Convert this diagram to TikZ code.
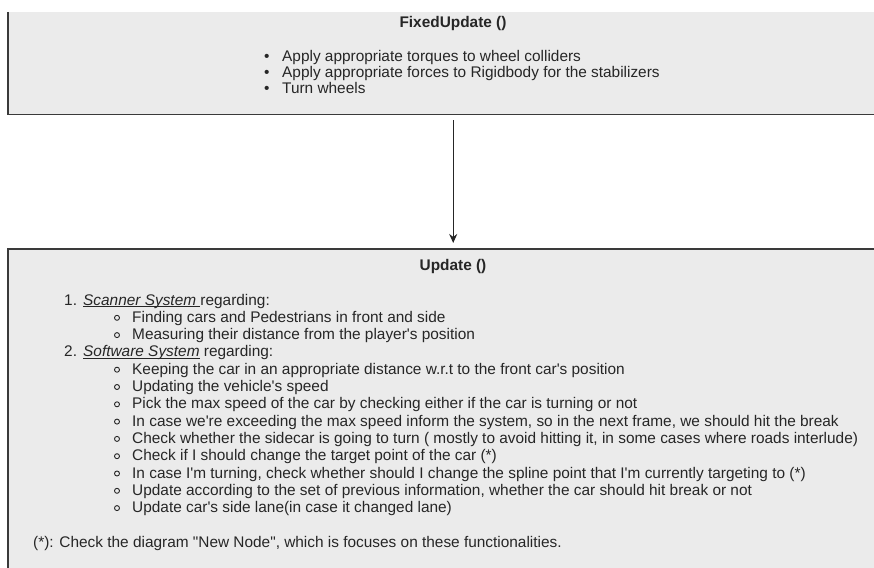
\documentclass[tikz,border=0pt]{standalone}
\usepackage{fontspec}
\setmainfont{Liberation Sans}[Ligatures=TeXOff]
\usetikzlibrary{arrows.meta}
\definecolor{boxfill}{HTML}{EBEBEB}
\definecolor{boxline}{HTML}{3A3A3A}
\definecolor{ink}{HTML}{262626}

% underline drawn just below the baseline, across descenders
\newsavebox\ulbox
\newcommand\ulspan[1]{\sbox\ulbox{#1}\rlap{\rule[-1.8pt]{\wd\ulbox}{0.8pt}}\usebox\ulbox}

\begin{document}
\begin{tikzpicture}[x=1pt,y=-1pt,
  panel/.style={fill=boxfill, draw=none, minimum width=890pt, inner sep=0pt, anchor=north west},
  edge/.style={draw=boxline, line width=1.6pt},
  txt/.style={anchor=base west, inner sep=0pt, text=ink, font=\fontsize{15.4}{18}\selectfont},
  ttl/.style={anchor=base, inner sep=0pt, text=ink, font=\fontsize{15.4}{18}\selectfont\bfseries},
  subdot/.style={circle, draw=ink, line width=0.9pt, inner sep=0pt, minimum size=5pt},
  flow/.style={draw=ink, line width=1.2pt, -{Stealth[length=9pt,width=8pt]}, shorten <=6pt, shorten >=6pt}
]
\useasboundingbox (0,0) rectangle (874,567);
\begin{scope}
\clip (0,0) rectangle (874,567);

% the two panels, running past the right and bottom edges
\node[panel, minimum height=102pt] (fixed) at (8,12) {};
\node[panel, minimum height=340pt] (update) at (8,249) {};
\draw[edge] (fixed.north west) -- (fixed.south west) -- (fixed.south east);
\draw[edge] (update.south west) -- (update.north west) -- (update.north east);

% FixedUpdate panel
\node[ttl] (fixedtitle) at (453,28) {FixedUpdate ()};
\node[txt] (fb1) at (264,62) {•};
\node[txt] (ft1) at (282,62) {Apply appropriate torques to wheel colliders};
\node[txt] (fb2) at (264,78) {•};
\node[txt] (ft2) at (282,78) {Apply appropriate forces to Rigidbody for the stabilizers};
\node[txt] (fb3) at (264,94) {•};
\node[txt] (ft3) at (282,94) {Turn wheels};

% Update panel
\node[ttl] (updatetitle) at (453,270) {Update ()};

\node[txt] (n1) at (64,305) {1.};
\node[txt] (s1) at (83,305) {\ulspan{\itshape Scanner System\ }regarding:};
\node[txt] (n2) at (64,356.9) {2.};
\node[txt] (s2) at (83,356.9) {\ulspan{\itshape Software System} regarding:};

\foreach \row/\line in {
  1/{Finding cars and Pedestrians in front and side},
  2/{Measuring their distance from the player's position},
  4/{Keeping the car in an appropriate distance w.r.t to the front car's position},
  5/{Updating the vehicle's speed},
  6/{Pick the max speed of the car by checking either if the car is turning or not},
  7/{In case we're exceeding the max speed inform the system, so in the next frame, we should hit the break},
  8/{Check whether the sidecar is going to turn ( mostly to avoid hitting it, in some cases where roads interlude)},
  9/{Check if I should change the target point of the car (*)},
  10/{In case I'm turning, check whether should I change the spline point that I'm currently targeting to (*)},
  11/{Update according to the set of previous information, whether the car should hit break or not},
  12/{Update car's side lane(in case it changed lane)}}{
  \node[subdot] (b\row) at (117,300.5+17.3*\row) {};
  \node[txt] (i\row) at (132,305+17.3*\row) {\line};
}

\node[txt] (note) at (33,547) {(*): Check the diagram "New Node", which is focuses on these functionalities.};

% call order
\draw[flow] (fixed.south) -- (update.north);
\end{scope}
\end{tikzpicture}
\end{document}
